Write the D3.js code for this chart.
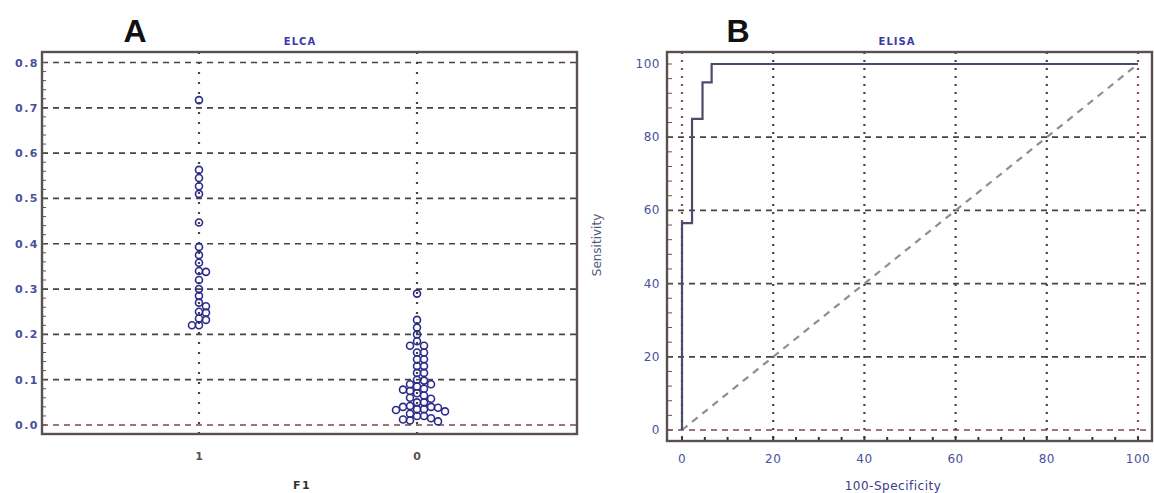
<!DOCTYPE html>
<html><head><meta charset="utf-8">
<script src="https://cdn.jsdelivr.net/npm/d3@7"></script>
<style>body{margin:0;background:#fff}svg{display:block}</style>
</head><body><svg id="c" width="1154" height="493"></svg>
<script>
// ---------- Data ----------
const groupCategories = ["1", "0"];
const group1Values = [0.717, 0.563, 0.545, 0.527, 0.51, 0.447, 0.393, 0.375, 0.358, 0.34, 0.338,
  0.32, 0.30, 0.285, 0.27, 0.262, 0.25, 0.248, 0.235, 0.232, 0.22, 0.22];
const group0Values = [0.29, 0.232, 0.215, 0.2, 0.185,
  0.175, 0.175, 0.16, 0.16, 0.145, 0.145, 0.13, 0.13, 0.115, 0.115,
  0.10, 0.098, 0.09, 0.09, 0.085, 0.08, 0.078, 0.075, 0.07,
  0.065, 0.06, 0.058, 0.05, 0.05,
  0.042, 0.04, 0.04, 0.038, 0.035, 0.035, 0.033, 0.03,
  0.025, 0.02, 0.02, 0.015, 0.012, 0.01, 0.008];
const yTicksA = [0, 0.1, 0.2, 0.3, 0.4, 0.5, 0.6, 0.7, 0.8];
const yTickLabelsA = ["0.0", "0.1", "0.2", "0.3", "0.4", "0.5", "0.6", "0.7", "0.8"];
const rocFpr = [0, 0, 2.2, 2.2, 4.5, 4.5, 6.5, 6.5, 100];
const rocTpr = [0, 56.5, 56.5, 85, 85, 95, 95, 100, 100];
const refFpr = [0, 100];
const refTpr = [0, 100];
const ticksB = [0, 20, 40, 60, 80, 100];
const titleA = "ELCA", titleB = "ELISA";
const xTitleA = "F1", xTitleB = "100-Specificity", yTitleB = "Sensitivity";

// ---------- Setup ----------
const svg = d3.select("#c");
const gridCol = "#444";
const labCol = "#4a4f9c";
const ptCol = "#2b2b8c";
const font = "'DejaVu Sans', sans-serif";

// ---------- Panel A ----------
const frameA = {x0: 42, x1: 577, y0: 52, y1: 434};
const xA = d3.scalePoint().domain(groupCategories).range([42, 574]).padding(0.72);
const yA = d3.scaleLinear().domain([0, 0.8]).range([425, 62.5]);
const gA = svg.append("g");

gA.selectAll("line.hg").data(yTicksA).join("line")
  .attr("x1", frameA.x0).attr("x2", frameA.x1)
  .attr("y1", d => yA(d)).attr("y2", d => yA(d))
  .attr("stroke", (d, i) => (i === 0 ? "#7a4a4a" : gridCol)).attr("stroke-width", 1.7)
  .attr("stroke-dasharray", "6,5");
gA.selectAll("line.vg").data(groupCategories).join("line")
  .attr("x1", d => xA(d)).attr("x2", d => xA(d))
  .attr("y1", frameA.y0).attr("y2", frameA.y1)
  .attr("stroke", gridCol).attr("stroke-width", 2.2)
  .attr("stroke-dasharray", "2,8");
gA.selectAll("line.mt").data(d3.range(0, 41).map(i => i * 0.02)).join("line")
  .attr("x1", frameA.x0).attr("x2", frameA.x0 + 4)
  .attr("y1", d => yA(d)).attr("y2", d => yA(d))
  .attr("stroke", "#555").attr("stroke-width", 1);
gA.append("rect").attr("x", frameA.x0).attr("y", frameA.y0)
  .attr("width", frameA.x1 - frameA.x0).attr("height", frameA.y1 - frameA.y0)
  .attr("fill", "none").attr("stroke", "#5a5050").attr("stroke-width", 2.4);

// dodge layout (points that overlap are shifted sideways)
function dodge(values, cx, r) {
  const placed = [];
  const step = 7;
  const minDist = 6.2;
  values.slice().sort((a, b) => b - a).forEach(v => {
    const py = yA(v);
    for (let k = 0; k < 40; k++) {
      const off = k === 0 ? 0 : (k % 2 ? 1 : -1) * Math.ceil(k / 2) * step;
      const px = cx + off;
      if (placed.every(p => Math.hypot(p.x - px, p.y - py) >= minDist)) {
        placed.push({x: px, y: py, v});
        break;
      }
    }
  });
  return placed;
}
const r = 3.5;
[[groupCategories[0], group1Values], [groupCategories[1], group0Values]].forEach(([cat, vals]) => {
  const pts = dodge(vals, xA(cat), r);
  gA.append("g").selectAll("circle").data(pts).join("circle")
    .attr("cx", d => d.x).attr("cy", d => d.y).attr("r", r)
    .attr("fill", "none").attr("stroke", ptCol).attr("stroke-width", 1.6);
});

gA.selectAll("text.yl").data(yTicksA).join("text")
  .attr("x", 39).attr("y", d => yA(d) + 4)
  .attr("text-anchor", "end").attr("font-family", font).attr("font-size", 11)
  .attr("font-weight", "bold").attr("letter-spacing", 1.5).attr("fill", labCol)
  .text((d, i) => yTickLabelsA[i]);
gA.selectAll("text.xl").data(groupCategories).join("text")
  .attr("x", d => xA(d)).attr("y", 460)
  .attr("text-anchor", "middle").attr("font-family", font).attr("font-size", 11)
  .attr("font-weight", "bold").attr("fill", "#555").text(d => d);
gA.append("text").attr("x", 302).attr("y", 489).attr("text-anchor", "middle")
  .attr("font-family", font).attr("font-size", 11).attr("font-weight", "bold")
  .attr("letter-spacing", 1.5).attr("fill", "#333").text(xTitleA);
gA.append("text").attr("x", 300).attr("y", 45).attr("text-anchor", "middle")
  .attr("font-family", font).attr("font-size", 10).attr("font-weight", "bold")
  .attr("letter-spacing", 1).attr("fill", "#3a3aa8").text(titleA);
gA.append("text").attr("x", 135).attr("y", 42).attr("text-anchor", "middle")
  .attr("font-family", "'Liberation Sans', Arial, sans-serif").attr("font-size", 32)
  .attr("font-weight", "bold").attr("fill", "#111").text("A");

// ---------- Panel B ----------
const frameB = {x0: 667, x1: 1152, y0: 52, y1: 441};
const xB = d3.scaleLinear().domain([0, 100]).range([682, 1138]);
const yB = d3.scaleLinear().domain([0, 100]).range([430, 64]);
const gB = svg.append("g");

gB.selectAll("line.hg").data(ticksB.filter(t => t < 100)).join("line")
  .attr("x1", frameB.x0).attr("x2", frameB.x1)
  .attr("y1", d => yB(d)).attr("y2", d => yB(d))
  .attr("stroke", (d, i) => (i === 0 ? "#7a4a4a" : gridCol)).attr("stroke-width", 1.7)
  .attr("stroke-dasharray", "6,5");
gB.selectAll("line.vg").data(ticksB).join("line")
  .attr("x1", d => xB(d)).attr("x2", d => xB(d))
  .attr("y1", frameB.y0).attr("y2", frameB.y1)
  .attr("stroke", d => (d === 100 || d === 0 ? "#8a4a4a" : gridCol)).attr("stroke-width", 2.2)
  .attr("stroke-dasharray", "2,6");
gB.selectAll("line.my").data(d3.range(0, 26).map(i => i * 4)).join("line")
  .attr("x1", frameB.x0).attr("x2", frameB.x0 + 5)
  .attr("y1", d => yB(d)).attr("y2", d => yB(d))
  .attr("stroke", "#7a4a4a").attr("stroke-width", 1);
gB.selectAll("line.mx").data(d3.range(0, 21).map(i => i * 5)).join("line")
  .attr("x1", d => xB(d)).attr("x2", d => xB(d))
  .attr("y1", frameB.y1).attr("y2", frameB.y1 - 4)
  .attr("stroke", "#333").attr("stroke-width", 2);
gB.append("path")
  .attr("d", d3.line().x((d, i) => xB(refFpr[i])).y((d, i) => yB(refTpr[i]))(refFpr))
  .attr("fill", "none").attr("stroke", "#8f8f8f").attr("stroke-width", 2.2)
  .attr("stroke-dasharray", "7,6");
gB.append("path")
  .attr("d", d3.line().x((d, i) => xB(rocFpr[i])).y((d, i) => yB(rocTpr[i]))(rocFpr))
  .attr("fill", "none").attr("stroke", "#4b4b6e").attr("stroke-width", 2.2);
gB.append("rect").attr("x", frameB.x0).attr("y", frameB.y0)
  .attr("width", frameB.x1 - frameB.x0).attr("height", frameB.y1 - frameB.y0)
  .attr("fill", "none").attr("stroke", "#5a5050").attr("stroke-width", 2.4);

gB.selectAll("text.yl").data(ticksB).join("text")
  .attr("x", 660).attr("y", d => yB(d) + 4)
  .attr("text-anchor", "end").attr("font-family", font).attr("font-size", 12)
  .attr("letter-spacing", 0.5).attr("fill", labCol).text(d => d);
gB.selectAll("text.xl").data(ticksB).join("text")
  .attr("x", d => xB(d)).attr("y", 463)
  .attr("text-anchor", "middle").attr("font-family", font).attr("font-size", 12)
  .attr("letter-spacing", 0.5).attr("fill", labCol).text(d => d);
gB.append("text").attr("x", 893).attr("y", 490).attr("text-anchor", "middle")
  .attr("font-family", font).attr("font-size", 12).attr("letter-spacing", 0.5)
  .attr("fill", "#3a3a8a").text(xTitleB);
gB.append("text").attr("transform", "translate(601,245) rotate(-90)").attr("text-anchor", "middle")
  .attr("font-family", font).attr("font-size", 12).attr("fill", "#555a80").text(yTitleB);
gB.append("text").attr("x", 897).attr("y", 45).attr("text-anchor", "middle")
  .attr("font-family", font).attr("font-size", 10).attr("font-weight", "bold")
  .attr("letter-spacing", 1).attr("fill", "#3a3aa8").text(titleB);
gB.append("text").attr("x", 738).attr("y", 42).attr("text-anchor", "middle")
  .attr("font-family", "'Liberation Sans', Arial, sans-serif").attr("font-size", 32)
  .attr("font-weight", "bold").attr("fill", "#111").text("B");
</script>
</body></html>
